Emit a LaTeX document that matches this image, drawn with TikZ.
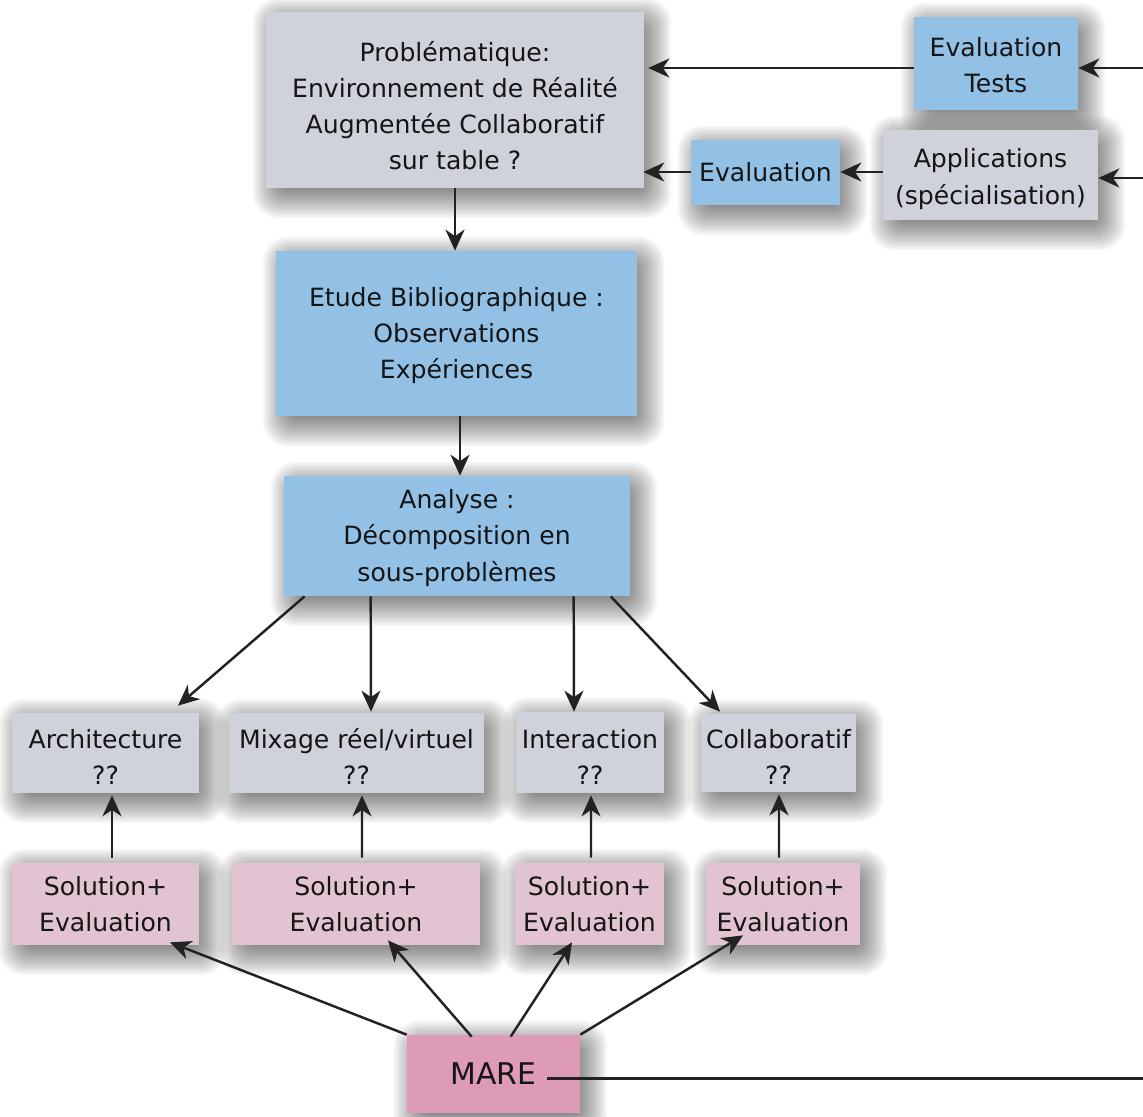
\documentclass[tikz,border=0pt]{standalone}
\usepackage{fontspec}
\setmainfont{DejaVu Sans}
\usetikzlibrary{arrows.meta,calc,backgrounds}
\definecolor{boxgray}{HTML}{CFD2DA}
\definecolor{boxblue}{HTML}{93C1E6}
\definecolor{boxpink}{HTML}{E2C3D2}
\definecolor{marepink}{HTML}{DE9BB8}
\definecolor{txt}{HTML}{151515}
\definecolor{lin}{HTML}{222222}
\tikzset{
  box/.style={rectangle, inner sep=0pt, align=center, text=txt,
    font=\fontsize{14.3pt}{20.5pt}\selectfont},
  graybox/.style={box, fill=boxgray},
  bluebox/.style={box, fill=boxblue},
  pinkbox/.style={box, fill=boxpink},
  arr/.style={draw=lin, line width=1.4pt, -{Stealth[length=4.2mm,width=3.8mm,inset=1.3mm]}},
  plainline/.style={draw=lin, line width=1.7pt}
}
\newcommand\shd[1]{%
  \foreach \g in {-20,-18,...,20}{%
    \fill[black, opacity=0.034, rounded corners={(\g+21)*0.35pt}]
      ($(#1.south west)+(7-\g,10+\g)$) rectangle ($(#1.north east)+(7+\g,6-\g)$);
  }%
}
\newcommand\up[1]{\rule{0pt}{#1}}
\begin{document}
\begin{tikzpicture}[x=0.02cm,y=-0.02cm]
\useasboundingbox (0,0) rectangle (1143,1116);
% top boxes
\node[graybox, minimum width=7.56cm, minimum height=3.52cm] (prob) at (455,100)
  {\up{18pt}Problématique:\\Environnement de Réalité\\Augmentée Collaboratif\\sur table ?};
\node[bluebox, minimum width=7.22cm, minimum height=3.30cm] (etude) at (456.5,333.5)
  {\up{13.2pt}Etude Bibliographique :\\Observations\\Expériences};
\node[bluebox, minimum width=6.92cm, minimum height=2.40cm] (ana) at (457,536)
  {\up{13.2pt}Analyse :\\Décomposition en\\sous-problèmes};
\node[bluebox, minimum width=3.28cm, minimum height=1.86cm] (evt) at (996,63.5)
  {\up{13.2pt}Evaluation\\Tests};
\node[bluebox, minimum width=2.98cm, minimum height=1.30cm] (ev) at (765.5,172.5)
  {Evaluation};
\node[graybox, minimum width=4.30cm, minimum height=1.80cm] (app) at (990.5,175)
  {\up{15.5pt}Applications\\(spécialisation)};
% sub-problems
\node[graybox, minimum width=3.74cm, minimum height=1.60cm] (arch) at (105.5,753)
  {\up{15.5pt}Architecture\\??};
\node[graybox, minimum width=5.10cm, minimum height=1.60cm] (mix) at (356.5,753)
  {\up{15.5pt}Mixage réel/virtuel\\??};
\node[graybox, minimum width=2.96cm, minimum height=1.62cm] (inter) at (590,752.5)
  {\up{15.5pt}Interaction\\??};
\node[graybox, minimum width=3.10cm, minimum height=1.56cm] (coll) at (778.5,753)
  {\up{15.5pt}Collaboratif\\??};
% solutions
\node[pinkbox, minimum width=3.74cm, minimum height=1.64cm] (s1) at (105.5,904)
  {Solution+\\Evaluation};
\node[pinkbox, minimum width=4.96cm, minimum height=1.64cm] (s2) at (356,904)
  {Solution+\\Evaluation};
\node[pinkbox, minimum width=2.98cm, minimum height=1.64cm] (s3) at (589.5,904)
  {Solution+\\Evaluation};
\node[pinkbox, minimum width=3.08cm, minimum height=1.64cm] (s4) at (783,904)
  {Solution+\\Evaluation};
\node[box, fill=marepink, minimum width=3.46cm, minimum height=1.56cm,
  font=\fontsize{17pt}{20pt}\selectfont] (mare) at (493.5,1074) {MARE};
% shadows and background
\begin{pgfonlayer}{background}
  \fill[white] (0,0) rectangle (1143,1116);
  \foreach \b in {prob,etude,ana,evt,ev,app,arch,mix,inter,coll,s1,s2,s3,s4,mare}{\shd{\b}}
\end{pgfonlayer}
% coordinates
\coordinate (r1) at (1143,68);
\coordinate (r2) at (1143,178);
\coordinate (r2b) at (0,172);
\coordinate (r3) at (1143,1078);
\coordinate (marestart) at ($(mare.center)+(53.5,4)$);
% top right arrows
\draw[arr] (r1) -- (r1 -| evt.east);
\draw[arr] (r1 -| evt.west) -- ($(r1 -| prob.east)+(4,0)$);
\draw[arr] (r2) -- (r2 -| app.east);
\draw[arr] (r2b -| app.west) -- (r2b -| ev.east);
\draw[arr] (r2b -| ev.west) -- ($(r2b -| prob.east)+(-1,0)$);
\draw[plainline] (marestart) -- (r3);
% vertical chain
\draw[arr] (prob.south) -- (prob.south |- etude.north);
\coordinate (e1) at ($(etude.south)+(3.5,0)$);
\draw[arr] (e1) -- (e1 |- ana.north);
% analyse to sub-problems
\draw[arr] ($(ana.south west)+(21,0)$) -- ($(arch.north)+(72.5,-7)$);
\draw[arr] ($(ana.south west)+(87,0)$) -- ($(mix.north)+(14.5,-1)$);
\draw[arr] ($(ana.south west)+(290,0)$) -- ($(inter.north)+(-16,0)$);
\draw[arr] ($(ana.south west)+(327,0)$) -- ($(coll.north)+(-58.5,-2)$);
% solutions to sub-problems
\draw[arr] ($(s1.north)+(6.5,-5)$) -- ($(arch.south)+(6.5,2)$);
\draw[arr] ($(s2.north)+(6,-5)$) -- ($(mix.south)+(5.5,2)$);
\draw[arr] ($(s3.north)+(1.5,-5)$) -- ($(inter.south)+(1,2)$);
\draw[arr] ($(s4.north)+(-4,-5)$) -- ($(coll.south)+(0.5,2)$);
% MARE to solutions
\draw[arr] (mare.north west) -- ($(s1.south)+(64.5,-3)$);
\draw[arr] ($(mare.north west)+(65,2)$) -- ($(s2.south)+(32,-5)$);
\draw[arr] ($(mare.north west)+(104,2)$) -- ($(s3.south)+(-17.5,-3)$);
\draw[arr] (mare.north east) -- ($(s4.south)+(-40,-10)$);
\end{tikzpicture}
\end{document}
